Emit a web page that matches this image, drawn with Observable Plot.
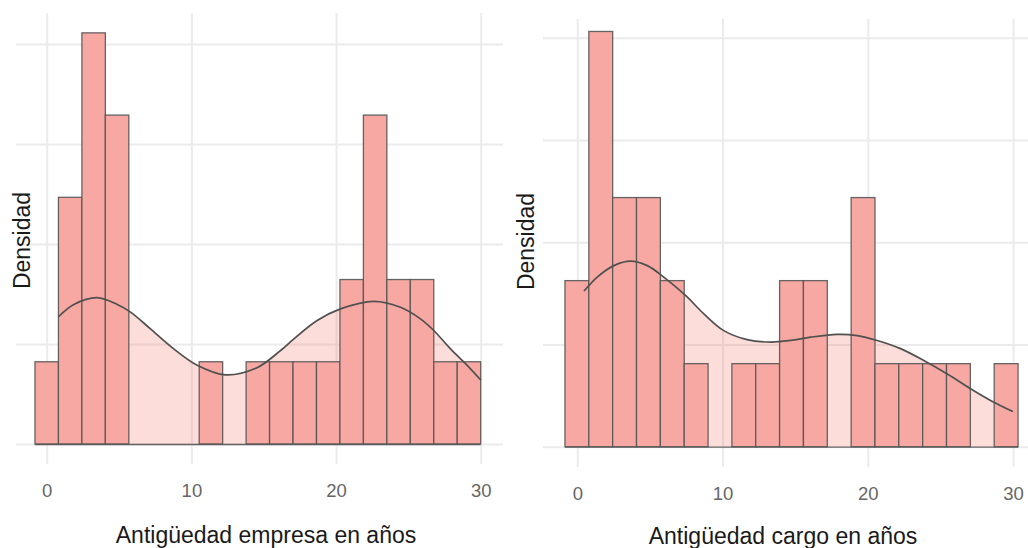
<!DOCTYPE html>
<html><head><meta charset="utf-8">
<script src="https://cdn.jsdelivr.net/npm/d3@7"></script>
<script src="https://cdn.jsdelivr.net/npm/@observablehq/plot@0.6"></script>
<style>
body{margin:0;background:#fff;}
#wrap{position:relative;width:1028px;height:548px;overflow:hidden;font-family:"Liberation Sans",Arial,sans-serif;}
#wrap svg{position:absolute;top:0;}
</style></head><body><div id="wrap"></div>
<script>
// ---- data ----
const N = 30;
const xTicks = [0, 10, 20, 30];
const yGrid = [0, 0.025, 0.05, 0.075, 0.1];

const empresaTitle = "Antigüedad empresa en años";
const empresaBinStart = -0.81, empresaBinWidth = 1.6215;
const empresaCounts = [1,3,5,4,0,0,0,1,0,1,1,1,1,2,4,2,2,1,1];
const empresaDensX = [0.80,1.84,3.46,4.84,5.76,7.14,8.75,10.37,12.32,14.50,16.13,17.05,18.66,20.27,22.58,24.42,25.80,26.72,27.88,29.03,29.95];
const empresaDensY = [0.0320,0.0350,0.0367,0.0350,0.0331,0.0289,0.0239,0.0198,0.0174,0.0192,0.0235,0.0264,0.0310,0.0339,0.0358,0.0343,0.0314,0.0285,0.0239,0.0198,0.0162];

const cargoTitle = "Antigüedad cargo en años";
const cargoBinStart = -0.847, cargoBinWidth = 1.6417;
const cargoCounts = [2,5,3,3,2,1,0,1,1,2,2,0,3,1,1,1,1,0,1];
const cargoDensX = [0.46,1.34,2.48,3.63,4.78,5.92,7.42,8.68,10.05,11.66,13.27,14.65,16.02,17.86,19.24,20.62,22.22,23.82,25.44,27.04,28.64,29.91];
const cargoDensY = [0.0383,0.0416,0.0444,0.0455,0.0444,0.0416,0.0371,0.0326,0.0285,0.0263,0.0257,0.0261,0.0269,0.0276,0.0273,0.0261,0.0241,0.0212,0.0179,0.0143,0.0110,0.0088];

const yLabel = "Densidad";

// ---- styling ----
const barFill = "#f8a8a3", barStroke = "#555555";
const densFill = "#f8766d", lineColor = "#505050";
const gridColor = "#ebebeb";

function panel(cfg) {
  const bins = cfg.counts.map((c, i) => ({
    x1: cfg.binStart + i * cfg.binWidth,
    x2: cfg.binStart + (i + 1) * cfg.binWidth,
    d: c / (N * cfg.binWidth)
  }));
  const dens = cfg.densX.map((x, i) => ({x, y: cfg.densY[i]}));
  const lo = bins[0].x1, hi = bins[bins.length - 1].x2;
  return Plot.plot({
    width: 514, height: 548,
    marginLeft: cfg.ml, marginRight: cfg.mr, marginTop: cfg.mt, marginBottom: cfg.mb,
    x: {domain: cfg.xdom},
    y: {domain: cfg.ydom, axis: null},
    style: {fontFamily: '"Liberation Sans", Arial, sans-serif', fontSize: "18px", color: "#666666", background: "transparent", overflow: "visible"},
    marks: [
      Plot.gridX(xTicks, {stroke: gridColor, strokeOpacity: 1, strokeWidth: 2}),
      Plot.gridY(yGrid, {stroke: gridColor, strokeOpacity: 1, strokeWidth: 2}),
      Plot.areaY(dens, {x: "x", y: "y", fill: densFill, fillOpacity: 0.25, curve: "catmull-rom"}),
      Plot.rectY(bins, {x1: "x1", x2: "x2", y: "d", fill: barFill, stroke: barStroke, strokeWidth: 1.3, strokeOpacity: 0.9}),
      Plot.ruleY([0], {x1: lo, x2: hi, stroke: barStroke, strokeWidth: 1.3, strokeOpacity: 0.9}),
      Plot.lineY(dens, {x: "x", y: "y", stroke: lineColor, strokeWidth: 1.7, curve: "catmull-rom"}),
      Plot.axisX(xTicks, {tickSize: 0, tickPadding: 19, fontSize: 18.5, fill: "#666666", label: null}),
      Plot.text([cfg.title], {frameAnchor: "bottom", dx: cfg.tdx, dy: cfg.tdy, fontSize: 23, fill: "#1a1a1a", lineAnchor: "middle"}),
      Plot.text([yLabel], {frameAnchor: "left", rotate: -90, dx: cfg.ydx, dy: cfg.ydy, fontSize: 23, fill: "#1a1a1a", textAnchor: "middle", lineAnchor: "middle"})
    ]
  });
}

const wrap = document.getElementById("wrap");
const left = panel({
  counts: empresaCounts, binStart: empresaBinStart, binWidth: empresaBinWidth,
  densX: empresaDensX, densY: empresaDensY, title: empresaTitle,
  ml: 16, mr: 11, mt: 13, mb: 84,
  xdom: [-2.122, 31.54], ydom: [-0.005, 0.10775],
  tdx: 6, tdy: 71, ydx: 6, ydy: 1.5
});
left.style.left = "0px";
wrap.appendChild(left);

const right = panel({
  counts: cargoCounts, binStart: cargoBinStart, binWidth: cargoBinWidth,
  densX: cargoDensX, densY: cargoDensY, title: cargoTitle,
  ml: 29, mr: 0, mt: 19, mb: 81,
  xdom: [-2.36, 31.03], ydom: [-0.00496, 0.10457],
  tdx: -3, tdy: 69, ydx: -17.3, ydy: -2
});
right.style.left = "514px";
wrap.appendChild(right);
</script></body></html>
